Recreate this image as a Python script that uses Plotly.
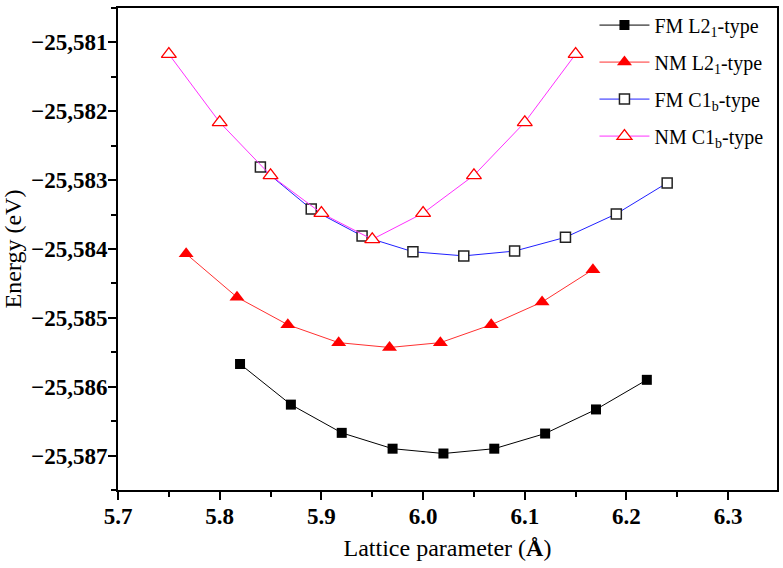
import plotly.graph_objects as go

# Data
fm_l21_x = [5.82, 5.87, 5.92, 5.97, 6.02, 6.07, 6.12, 6.17, 6.22]
fm_l21_y = [-25585.67, -25586.26, -25586.67, -25586.90, -25586.97, -25586.90, -25586.68, -25586.33, -25585.90]

nm_l21_x = [5.767, 5.817, 5.867, 5.917, 5.967, 6.017, 6.067, 6.117, 6.167]
nm_l21_y = [-25584.07, -25584.70, -25585.10, -25585.36, -25585.43, -25585.36, -25585.10, -25584.77, -25584.30]

fm_c1b_x = [5.84, 5.89, 5.94, 5.99, 6.04, 6.09, 6.14, 6.19, 6.24]
fm_c1b_y = [-25582.81, -25583.42, -25583.81, -25584.04, -25584.10, -25584.03, -25583.83, -25583.49, -25583.04]

nm_c1b_x = [5.75, 5.80, 5.85, 5.90, 5.95, 6.00, 6.05, 6.10, 6.15]
nm_c1b_y = [-25581.17, -25582.16, -25582.93, -25583.48, -25583.86, -25583.48, -25582.93, -25582.16, -25581.17]

names = ["FM L2<sub>1</sub>-type", "NM L2<sub>1</sub>-type",
         "FM C1<sub>b</sub>-type", "NM C1<sub>b</sub>-type"]

x_ticks = [5.7, 5.8, 5.9, 6.0, 6.1, 6.2, 6.3]
y_ticks = [-25587, -25586, -25585, -25584, -25583, -25582, -25581]

font = "Liberation Serif"

fig = go.Figure()
fig.add_trace(go.Scatter(
    x=fm_l21_x, y=fm_l21_y, mode="lines+markers", name=names[0], legendgroup="a",
    line=dict(color="black", width=1),
    marker=dict(symbol="square", size=10, color="black", line=dict(color="black", width=0))))
fig.add_trace(go.Scatter(
    x=nm_l21_x, y=nm_l21_y, mode="lines+markers", name=names[1], legendgroup="b",
    line=dict(color="#ff3030", width=1),
    marker=dict(symbol="triangle-up", size=13, color="red", line=dict(color="red", width=0))))
fig.add_trace(go.Scatter(
    x=fm_c1b_x, y=fm_c1b_y, mode="lines+markers", name=names[2], legendgroup="c",
    line=dict(color="#2020ff", width=1),
    marker=dict(symbol="square", size=10, color="white", line=dict(color="#222222", width=1.5))))
fig.add_trace(go.Scatter(
    x=nm_c1b_x, y=nm_c1b_y, mode="lines+markers", name=names[3], legendgroup="d",
    line=dict(color="#ff30ff", width=1),
    marker=dict(symbol="triangle-up", size=13, color="white", line=dict(color="red", width=1.3))))

fig.update_layout(
    template="none",
    width=783, height=568,
    margin=dict(l=118, r=6, t=6, b=78),
    paper_bgcolor="white", plot_bgcolor="white",
    font=dict(family=font, color="black"),
    showlegend=True,
    legend=dict(x=0.723, y=1.005, xanchor="left", yanchor="top",
                font=dict(family=font, size=20, color="black"),
                bgcolor="rgba(0,0,0,0)", traceorder="grouped", tracegroupgap=8,
                itemwidth=50),
)

fig.update_xaxes(
    automargin=False,
    range=[5.7, 6.348], tickmode="array", tickvals=x_ticks,
    ticktext=[f"<b>{v:.1f}</b>" for v in x_ticks],
    ticks="outside", ticklen=8, tickwidth=2, tickcolor="black", ticklabelstandoff=-4,
    minor=dict(ticks="outside", ticklen=5, tickwidth=2, tickcolor="black", dtick=0.05, showgrid=False),
    showline=True, linewidth=2, linecolor="black", mirror=True,
    showgrid=False, zeroline=False,
    tickfont=dict(family=font, size=23, color="black"),
    title=dict(text="Lattice parameter (<b>Å</b>)", font=dict(family=font, size=24, color="black"), standoff=12),
)
fig.update_yaxes(
    automargin=False,
    range=[-25587.5, -25580.5], tickmode="array", tickvals=y_ticks,
    ticktext=["<b>\u2212" + f"{abs(v):,d}" + "</b>" for v in y_ticks],
    ticks="outside", ticklen=8, tickwidth=2, tickcolor="black", ticklabelstandoff=-4,
    minor=dict(ticks="outside", ticklen=5, tickwidth=2, tickcolor="black", dtick=0.5, showgrid=False),
    showline=True, linewidth=2, linecolor="black", mirror=True,
    showgrid=False, zeroline=False,
    tickfont=dict(family=font, size=23, color="black"),
    title=dict(text="Energy (eV)", font=dict(family=font, size=24, color="black"), standoff=8),
)

fig.write_html("out.html")
